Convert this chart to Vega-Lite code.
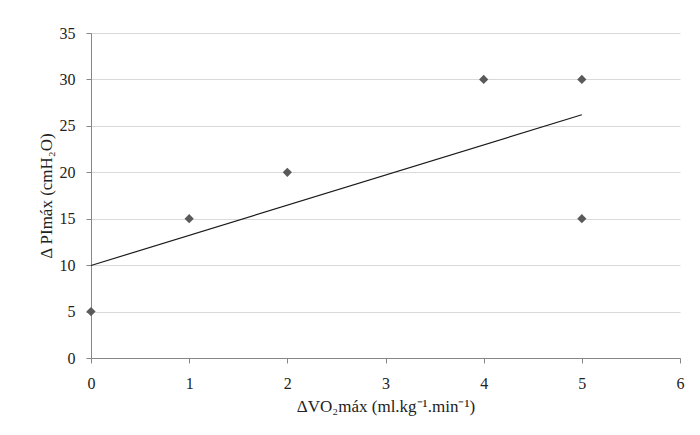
{
  "$schema": "https://vega.github.io/schema/vega-lite/v6.json",
  "autosize": "none",
  "width": 589,
  "height": 325,
  "padding": {"left": 91, "top": 33, "right": 20, "bottom": 77},
  "background": "white",
  "config": {
    "view": {"stroke": null},
    "font": "Liberation Serif",
    "axis": {
      "labelFont": "Liberation Serif",
      "titleFont": "Liberation Serif",
      "labelFontSize": 16,
      "titleFontSize": 17,
      "titleFontWeight": "normal",
      "labelColor": "#222222",
      "titleColor": "#222222",
      "domainColor": "#868686",
      "tickColor": "#868686",
      "tickSize": 5,
      "gridColor": "#d9d9d9",
      "labelFlush": false
    }
  },
  "datasets": {
    "points": [
      {"dvo2": 0, "dpi": 5},
      {"dvo2": 1, "dpi": 15},
      {"dvo2": 2, "dpi": 20},
      {"dvo2": 4, "dpi": 30},
      {"dvo2": 5, "dpi": 30},
      {"dvo2": 5, "dpi": 15}
    ],
    "trend": [
      {"dvo2": 0, "dpi": 9.96},
      {"dvo2": 5, "dpi": 26.2}
    ]
  },
  "encoding": {
    "x": {
      "field": "dvo2",
      "type": "quantitative",
      "scale": {"domain": [0, 6], "nice": false, "zero": true},
      "axis": {
        "title": "ΔVO₂máx (ml.kg⁻¹.min⁻¹)",
        "values": [0, 1, 2, 3, 4, 5, 6],
        "format": "d",
        "grid": false,
        "labelPadding": 12,
        "titlePadding": 7
      }
    },
    "y": {
      "field": "dpi",
      "type": "quantitative",
      "scale": {"domain": [0, 35], "nice": false},
      "axis": {
        "title": "Δ PImáx (cmH₂O)",
        "values": [0, 5, 10, 15, 20, 25, 30, 35],
        "format": "d",
        "grid": true,
        "labelPadding": 11,
        "titlePadding": 4
      }
    }
  },
  "layer": [
    {
      "data": {"name": "trend"},
      "mark": {"type": "line", "color": "#1a1a1a", "strokeWidth": 1.2}
    },
    {
      "data": {"name": "points"},
      "mark": {"type": "point", "shape": "diamond", "filled": true, "size": 85, "color": "#5a5a5a", "opacity": 1}
    }
  ]
}
